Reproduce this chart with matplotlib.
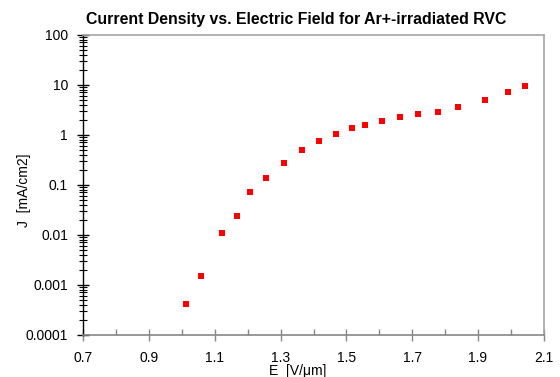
import matplotlib
matplotlib.use("Agg")
import matplotlib.pyplot as plt
import numpy as np
from matplotlib.ticker import LogLocator, NullFormatter, MultipleLocator

plt.rcParams['font.family'] = ['Liberation Sans', 'DejaVu Sans']

E_field = [1.0125, 1.059, 1.123, 1.168, 1.208, 1.257, 1.311, 1.366, 1.418, 1.469,
           1.518, 1.558, 1.608, 1.662, 1.719, 1.779, 1.840, 1.920, 1.992, 2.042]
J_density = [4.17e-4, 1.47e-3, 0.0108, 0.0233, 0.0724, 0.136, 0.275, 0.488, 0.748, 1.03,
             1.34, 1.585, 1.88, 2.26, 2.56, 2.88, 3.58, 4.94, 7.05, 9.29]
x_ticks = [0.7, 0.9, 1.1, 1.3, 1.5, 1.7, 1.9, 2.1]
y_ticks = [0.0001, 0.001, 0.01, 0.1, 1, 10, 100]
y_tick_labels = ['0.0001', '0.001', '0.01', '0.1', '1', '10', '100']

fig = plt.figure(figsize=(5.6, 3.77), dpi=100)
ax = fig.add_axes([0.1488, 0.1122, 0.8221, 0.7958])

ax.plot(E_field, J_density, linestyle='none', marker='s', markersize=4.3,
        color='#ff0000', markeredgewidth=0)

ax.set_yscale('log')
ax.set_xlim(0.7, 2.1)
ax.set_ylim(1e-4, 100)
ax.set_xticks(x_ticks)
ax.set_xticklabels([f'{v:.1f}' for v in x_ticks])
ax.xaxis.set_minor_locator(MultipleLocator(0.1))
ax.set_yticks(y_ticks)
ax.set_yticklabels(y_tick_labels)
ax.yaxis.set_minor_locator(LogLocator(base=10, subs=np.arange(2, 10)))
ax.yaxis.set_minor_formatter(NullFormatter())

for s in ['top', 'right']:
    ax.spines[s].set_color('#a6a6a6')
    ax.spines[s].set_linewidth(1.2)
ax.spines['bottom'].set_color('#888888')
ax.spines['bottom'].set_linewidth(1.2)
ax.spines['left'].set_color('black')
ax.spines['left'].set_linewidth(1.0)

ax.tick_params(axis='y', which='major', direction='inout', length=8, width=1, color='black', labelsize=10, pad=7)
ax.tick_params(axis='y', which='minor', direction='inout', length=6, width=0.8, color='black')
ax.tick_params(axis='x', which='major', direction='inout', length=8, width=1, color='#888888', labelsize=10, pad=8)
ax.tick_params(axis='x', which='minor', direction='in', length=4, width=1, color='#888888')

ax.set_title('Current Density vs. Electric Field for Ar+-irradiated RVC',
             fontsize=11.4, fontweight='bold', pad=8, x=0.462)
ax.set_xlabel('E  [V/\u03bcm]', fontsize=10, labelpad=-1)
ax.xaxis.label.set_x(0.465)
ax.set_ylabel('J  [mA/cm2]', fontsize=10)
ax.yaxis.set_label_coords(-0.1136, 0.482)

fig.savefig('out.png', dpi=100)
